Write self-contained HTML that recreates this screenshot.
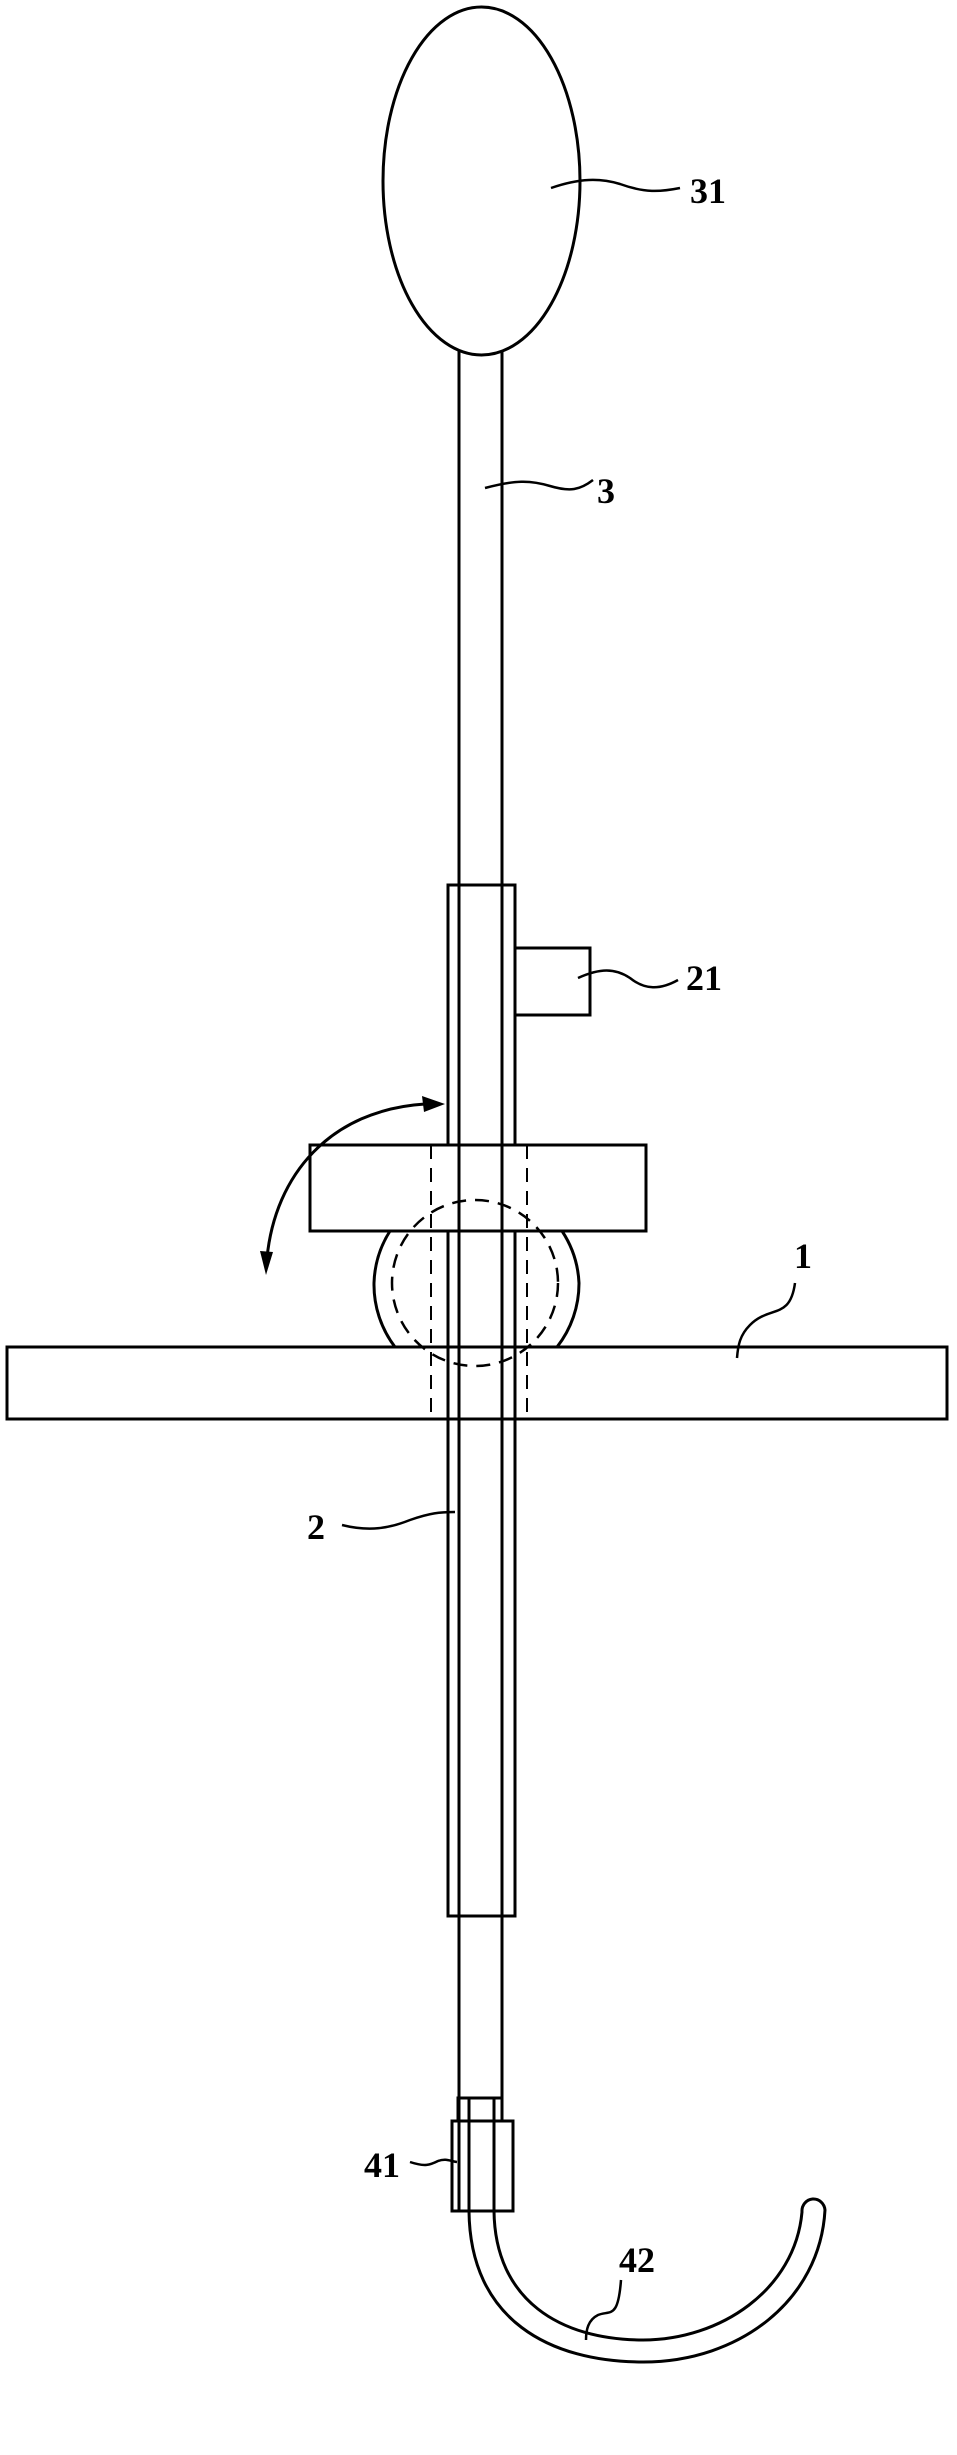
<!DOCTYPE html>
<html><head><style>html,body{margin:0;padding:0;background:#fff}svg{display:block}</style></head>
<body>
<svg width="957" height="2455" viewBox="0 0 957 2455" xmlns="http://www.w3.org/2000/svg">
<g fill="none" stroke="#000" stroke-width="3">
<ellipse cx="481.5" cy="181" rx="98.5" ry="174"/>
<line x1="459" y1="350" x2="459" y2="2211"/>
<line x1="502" y1="352" x2="502" y2="2121"/>
<rect x="448" y="885" width="67" height="1031"/>
<rect x="515" y="948" width="75" height="67"/>
<path d="M395 1347 A103 103 0 0 1 374 1283 A103 103 0 0 1 390 1231 M557 1347 A103 103 0 0 0 579 1283 A103 103 0 0 0 562 1231"/>
<rect x="310" y="1145" width="336" height="86" fill="#fff"/>
<line x1="459" y1="1145" x2="459" y2="1231"/><line x1="502" y1="1145" x2="502" y2="1231"/>
<rect x="7" y="1347" width="940" height="72" fill="#fff"/>
<line x1="459" y1="1347" x2="459" y2="1419"/><line x1="502" y1="1347" x2="502" y2="1419"/>
<line x1="448" y1="1347" x2="448" y2="1419"/><line x1="515" y1="1347" x2="515" y2="1419"/>
<circle cx="475" cy="1283" r="83" stroke-dasharray="14 9" stroke-width="2.5"/>
<g stroke-width="2" stroke-dasharray="14 9"><line x1="431" y1="1145" x2="431" y2="1419"/><line x1="527" y1="1145" x2="527" y2="1419"/></g>
<path d="M267 1258 C275 1175 330 1110 425 1104"/>
<rect x="458" y="2098" width="44" height="23"/>
<line x1="469" y1="2098" x2="469" y2="2211"/><line x1="494" y1="2098" x2="494" y2="2211"/>
<rect x="452" y="2121" width="61" height="90"/>
<path d="M469 2211 C470 2320 550 2362 643 2362 C740 2362 820 2300 825 2210 A11.5 12 0 0 0 802 2212 C795 2290 720 2340 643 2340 C560 2340 495 2300 494 2211"/>
<g stroke-width="2.5">
<path d="M551 188 C580 178 600 178 620 184 C645 193 660 192 680 188"/>
<path d="M485 488 C515 480 530 480 550 486 C570 492 580 490 593 480"/>
<path d="M578 978 C600 968 615 968 630 978 C645 990 660 990 678 980"/>
<path d="M795 1283 C790 1320 770 1305 750 1325 C740 1335 738 1345 737 1358"/>
<path d="M342 1525 C370 1532 390 1528 410 1520 C430 1513 440 1512 455 1512"/>
<path d="M410 2162 C425 2167 430 2165 438 2161 C446 2158 450 2161 457 2162"/>
<path d="M621 2280 C618 2320 610 2310 598 2315 C588 2320 586 2330 586 2340"/>
</g>
</g>
<polygon points="445,1104 422,1096 424,1112" fill="#000"/>
<polygon points="266,1275 260,1251 273,1252" fill="#000"/>
<g font-family="'Liberation Serif',serif" font-weight="bold" font-size="36" fill="#000">
<text x="690" y="203">31</text>
<text x="597" y="503">3</text>
<text x="686" y="990">21</text>
<text x="794" y="1268">1</text>
<text x="307" y="1539">2</text>
<text x="364" y="2177">41</text>
<text x="619" y="2272">42</text>
</g>
</svg>
</body></html>
